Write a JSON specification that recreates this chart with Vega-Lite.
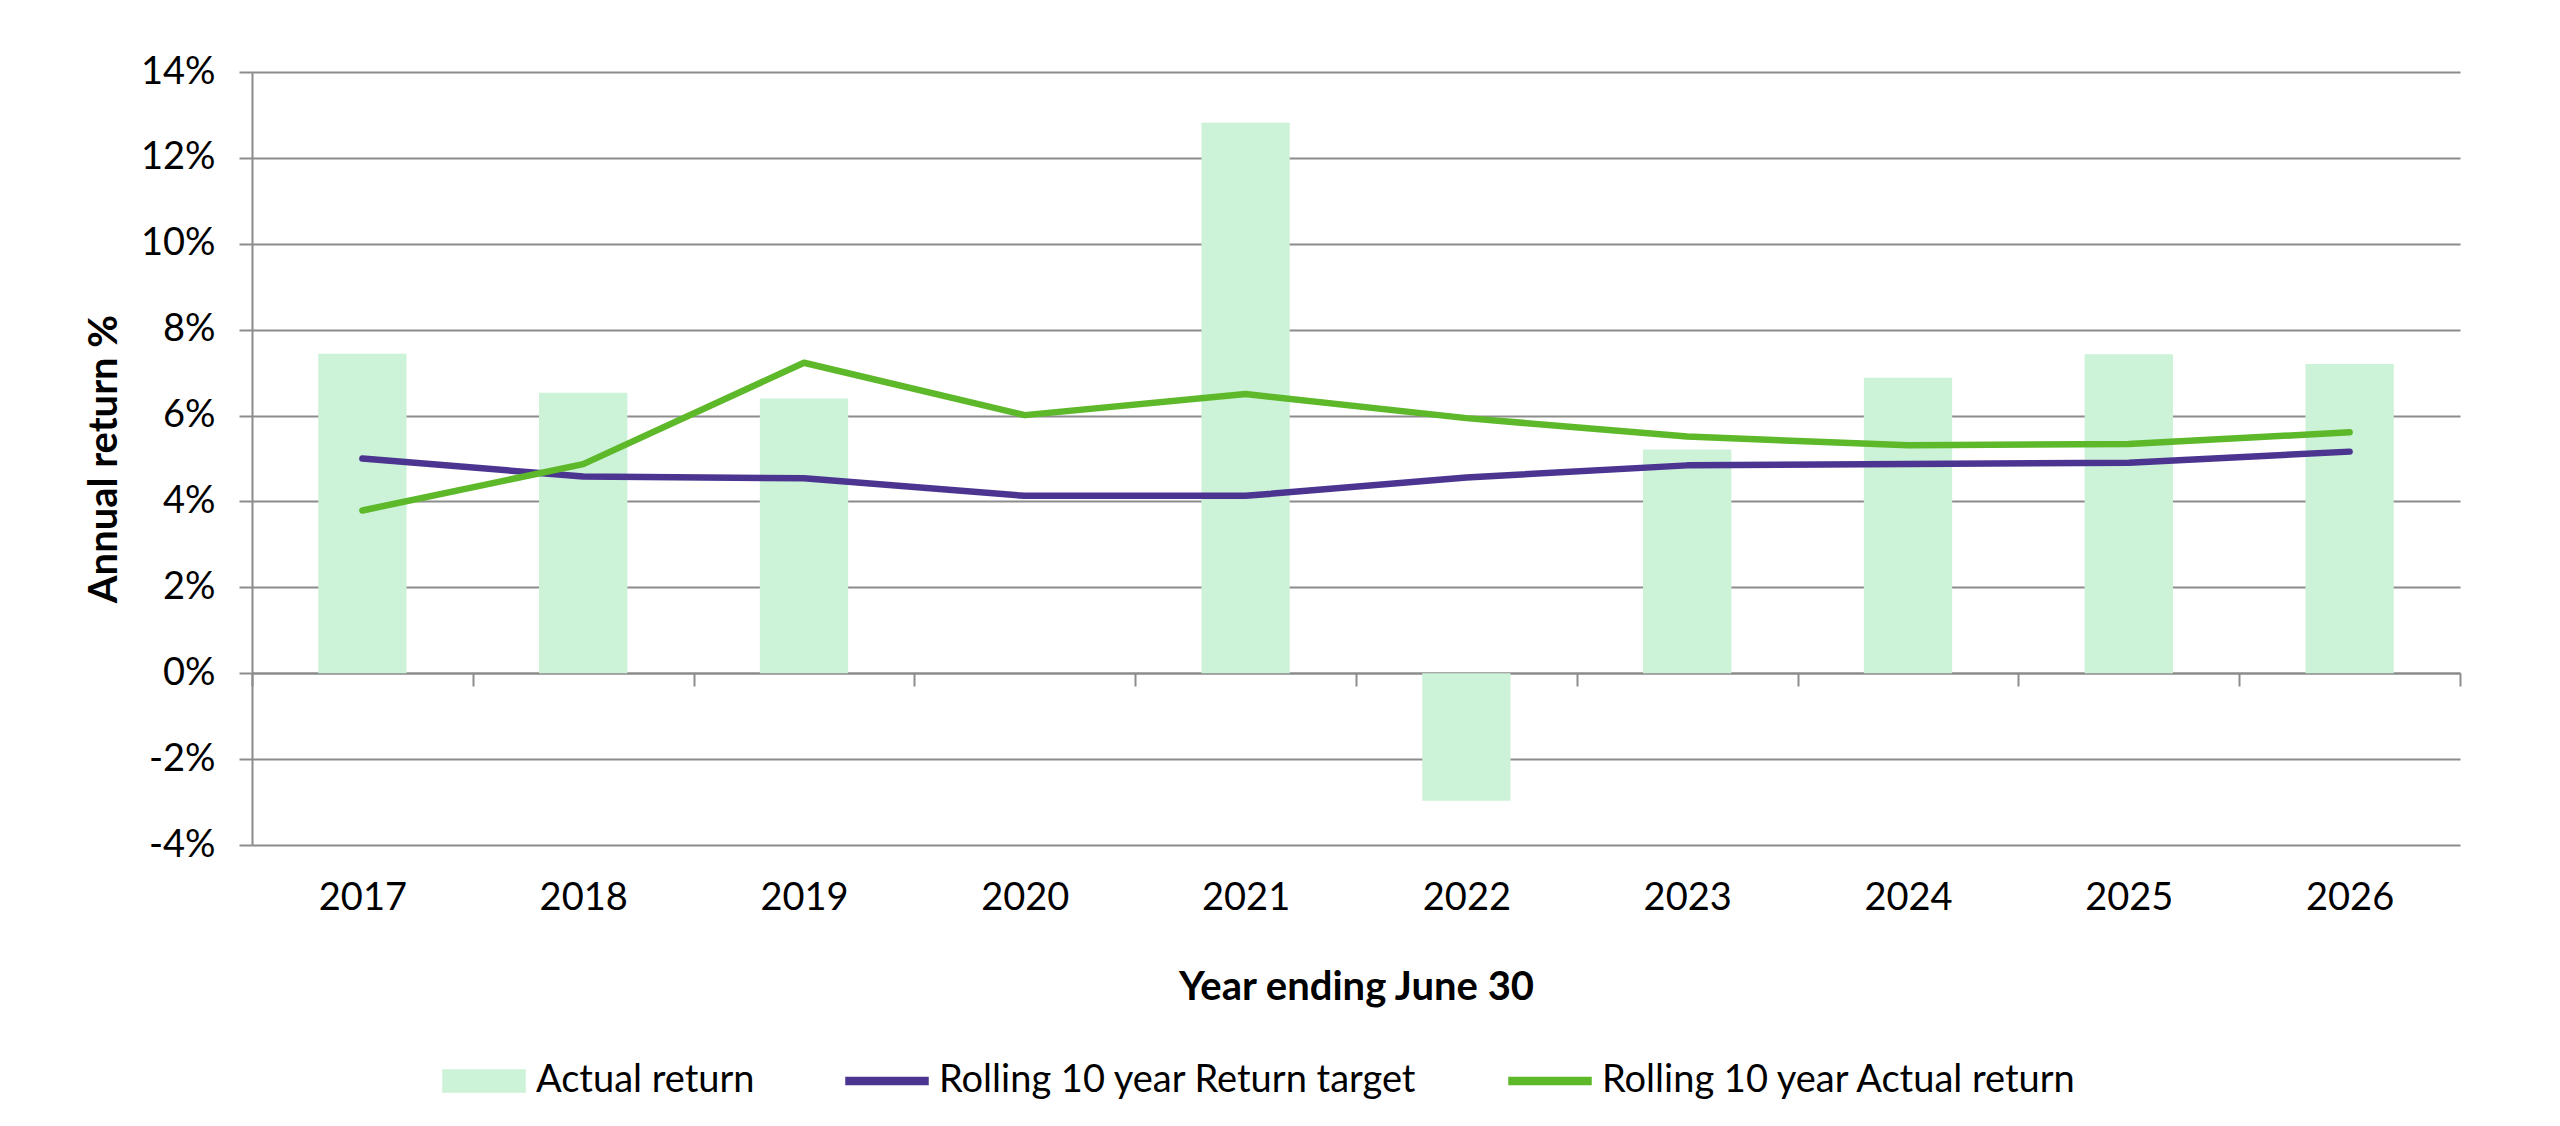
{
  "$schema": "https://vega.github.io/schema/vega-lite/v6.json",
  "width": 2208,
  "height": 773,
  "autosize": {"type": "none"},
  "padding": {"left": 252, "top": 72, "right": 100, "bottom": 281},
  "background": "white",
  "data": {
    "values": [
      {"year": "2017", "series": "Actual return", "value": 7.44},
      {"year": "2018", "series": "Actual return", "value": 6.53},
      {"year": "2019", "series": "Actual return", "value": 6.40},
      {"year": "2021", "series": "Actual return", "value": 12.82},
      {"year": "2022", "series": "Actual return", "value": -2.97},
      {"year": "2023", "series": "Actual return", "value": 5.21},
      {"year": "2024", "series": "Actual return", "value": 6.88},
      {"year": "2025", "series": "Actual return", "value": 7.43},
      {"year": "2026", "series": "Actual return", "value": 7.20},
      {"year": "2017", "series": "Rolling 10 year Return target", "value": 5.00},
      {"year": "2018", "series": "Rolling 10 year Return target", "value": 4.58},
      {"year": "2019", "series": "Rolling 10 year Return target", "value": 4.54},
      {"year": "2020", "series": "Rolling 10 year Return target", "value": 4.13},
      {"year": "2021", "series": "Rolling 10 year Return target", "value": 4.13},
      {"year": "2022", "series": "Rolling 10 year Return target", "value": 4.56},
      {"year": "2023", "series": "Rolling 10 year Return target", "value": 4.84},
      {"year": "2024", "series": "Rolling 10 year Return target", "value": 4.87},
      {"year": "2025", "series": "Rolling 10 year Return target", "value": 4.90},
      {"year": "2026", "series": "Rolling 10 year Return target", "value": 5.16},
      {"year": "2017", "series": "Rolling 10 year Actual return", "value": 3.79},
      {"year": "2018", "series": "Rolling 10 year Actual return", "value": 4.87},
      {"year": "2019", "series": "Rolling 10 year Actual return", "value": 7.23},
      {"year": "2020", "series": "Rolling 10 year Actual return", "value": 6.01},
      {"year": "2021", "series": "Rolling 10 year Actual return", "value": 6.50},
      {"year": "2022", "series": "Rolling 10 year Actual return", "value": 5.94},
      {"year": "2023", "series": "Rolling 10 year Actual return", "value": 5.51},
      {"year": "2024", "series": "Rolling 10 year Actual return", "value": 5.31},
      {"year": "2025", "series": "Rolling 10 year Actual return", "value": 5.34},
      {"year": "2026", "series": "Rolling 10 year Actual return", "value": 5.61}
    ]
  },
  "encoding": {
    "x": {
      "field": "year",
      "type": "ordinal",
      "title": "Year ending June 30",
      "scale": {
        "domain": ["2017", "2018", "2019", "2020", "2021", "2022", "2023", "2024", "2025", "2026"],
        "paddingInner": 0,
        "paddingOuter": 0
      },
      "axis": {
        "orient": "bottom",
        "offset": -172,
        "labelAngle": 0,
        "tickBand": "extent",
        "tickSize": 13,
        "labelPadding": 193,
        "titlePadding": 94
      }
    },
    "y": {
      "field": "value",
      "type": "quantitative",
      "title": "Annual return %",
      "scale": {"domain": [-4, 14], "nice": false, "zero": false},
      "axis": {
        "values": [-4, -2, 0, 2, 4, 6, 8, 10, 12, 14],
        "labelExpr": "datum.value + '%'",
        "tickSize": 13,
        "labelPadding": 24,
        "titlePadding": 16
      }
    },
    "color": {
      "field": "series",
      "type": "nominal",
      "scale": {
        "domain": ["Actual return", "Rolling 10 year Return target", "Rolling 10 year Actual return"],
        "range": ["#ccf2d8", "#4b3591", "#5db82a"]
      },
      "legend": {
        "orient": "none",
        "legendX": 190,
        "legendY": 967,
        "direction": "horizontal",
        "title": null,
        "symbolSize": 6724,
        "labelOffset": 10,
        "columnPadding": 88,
        "encode": {
          "symbols": {
            "update": {
              "shape": {"signal": "datum.value === 'Actual return' ? 'M-1,-0.27H1V0.27H-1Z' : 'M-1,-0.085H1V0.085H-1Z'"},
              "fill": {"scale": "color", "field": "value"},
              "stroke": {"value": "transparent"},
              "opacity": {"value": 1},
              "fillOpacity": {"value": 1}
            }
          }
        }
      }
    }
  },
  "layer": [
    {
      "transform": [{"filter": "datum.series === 'Actual return'"}],
      "mark": {"type": "bar", "width": {"band": 0.4}}
    },
    {
      "transform": [{"filter": "datum.series !== 'Actual return'"}],
      "mark": {"type": "line", "strokeWidth": 6.5, "strokeCap": "round", "strokeJoin": "round"}
    }
  ],
  "config": {
    "view": {"stroke": null},
    "font": "Lato",
    "axis": {
      "labelFont": "Lato",
      "labelFontSize": 38,
      "labelColor": "#000000",
      "titleFont": "Lato",
      "titleFontSize": 40,
      "titleFontWeight": "bold",
      "titleColor": "#000000",
      "domainColor": "#8c8c8c",
      "domainWidth": 2,
      "tickColor": "#8c8c8c",
      "tickWidth": 2,
      "gridColor": "#8c8c8c",
      "gridWidth": 2
    },
    "axisX": {"grid": false},
    "legend": {
      "labelFont": "Lato",
      "labelFontSize": 38,
      "labelColor": "#000000",
      "labelLimit": 1000
    }
  }
}
